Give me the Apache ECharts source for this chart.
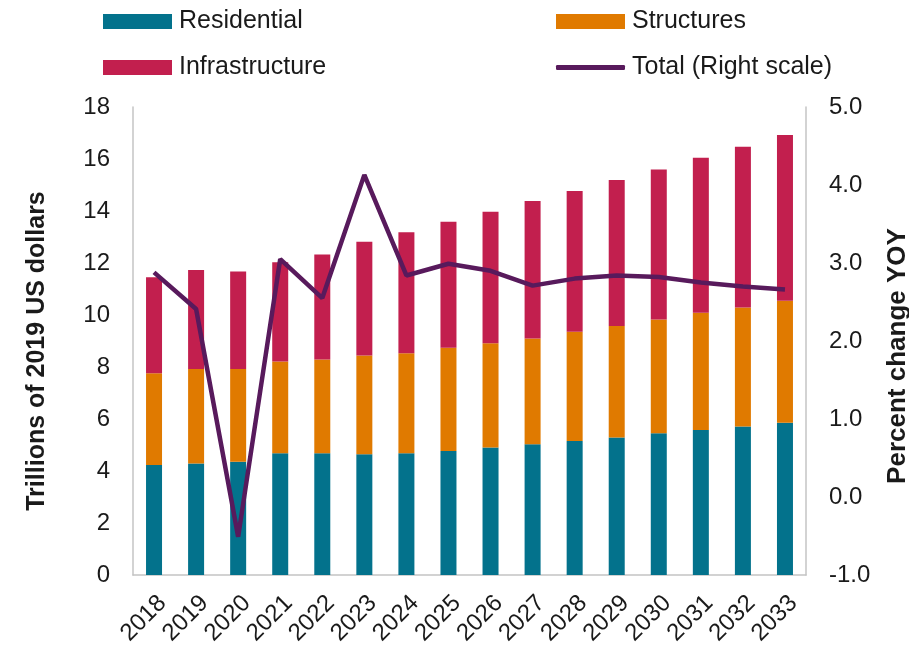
<!DOCTYPE html>
<html>
<head>
<meta charset="utf-8">
<script src="https://cdn.jsdelivr.net/npm/echarts@6/dist/echarts.min.js"></script>
<style>
  html, body { margin: 0; padding: 0; background: #fff; }
  #main { width: 909px; height: 648px; }
</style>
</head>
<body>
<div id="main"></div>
<script>
var years = ['2018', '2019', '2020', '2021', '2022', '2023', '2024', '2025',
             '2026', '2027', '2028', '2029', '2030', '2031', '2032', '2033'];
var residential = [4.23, 4.29, 4.36, 4.68, 4.68, 4.64, 4.68, 4.77, 4.90, 5.03, 5.15, 5.29, 5.45, 5.58, 5.71, 5.86];
var structures = [3.53, 3.63, 3.56, 3.53, 3.61, 3.80, 3.85, 3.97, 4.01, 4.07, 4.21, 4.29, 4.38, 4.51, 4.58, 4.69];
var infrastructure = [3.69, 3.81, 3.75, 3.82, 4.04, 4.38, 4.65, 4.85, 5.06, 5.28, 5.41, 5.61, 5.77, 5.96, 6.18, 6.37];
var totalYoy = [2.88, 2.41, -0.51, 3.05, 2.55, 4.13, 2.84, 2.99, 2.90, 2.71, 2.80, 2.84, 2.82, 2.75, 2.70, 2.66];

var font = '"Liberation Sans", Arial, sans-serif';
var txt = '#1a1a1a';

// one legend per entry so each sits where the original puts it
function legendAt(name, left, top, h) {
    return {
        left: left, top: top, padding: 0,
        itemWidth: 69, itemHeight: h,
        textStyle: { fontSize: 25, color: txt, fontFamily: font, padding: [0, 0, 0, 2] },
        data: [{ name: name, icon: h < 10 ? 'roundRect' : 'rect' }]
    };
}

var myChart = echarts.init(document.getElementById('main'));
var option = {
    animation: false,
    textStyle: { fontFamily: font },
    legend: [
        legendAt('Residential', 103, 9, 15),
        legendAt('Infrastructure', 103, 55, 15),
        legendAt('Structures', 556, 9, 15),
        legendAt('Total (Right scale)', 556, 55, 5)
    ],
    grid: { left: 133, right: 103, top: 107, bottom: 73, outerBoundsMode: 'none', containLabel: false },
    xAxis: {
        type: 'category',
        data: years,
        axisLine: { lineStyle: { color: '#c4c4c4', width: 1.5 } },
        axisTick: { show: false },
        axisLabel: { rotate: 45, fontSize: 24, color: txt, margin: 16, interval: 0, verticalAlign: 'top' }
    },
    yAxis: [{
        type: 'value',
        min: 0, max: 18, interval: 2,
        name: 'Trillions of 2019 US dollars',
        nameLocation: 'middle',
        nameGap: 83,
        nameTextStyle: { fontSize: 25, fontWeight: 'bold', color: txt, padding: [0, 20, 0, 0] },
        axisLine: { show: true, lineStyle: { color: '#c4c4c4', width: 1.5 } },
        axisTick: { show: false },
        splitLine: { show: false },
        axisLabel: { fontSize: 24, color: txt, margin: 23 }
    }, {
        type: 'value',
        min: -1, max: 5, interval: 1,
        name: 'Percent change YOY',
        nameLocation: 'middle',
        nameGap: 79,
        nameRotate: 90,
        nameTextStyle: { fontSize: 26, fontWeight: 'bold', color: txt, padding: [0, 30, 0, 0] },
        axisLine: { show: true, lineStyle: { color: '#c4c4c4', width: 1.5 } },
        axisTick: { show: false },
        splitLine: { show: false },
        axisLabel: {
            fontSize: 24, color: txt, margin: 23,
            formatter: function (v) { return v.toFixed(1); }
        }
    }],
    series: [{
        name: 'Residential',
        type: 'bar',
        stack: 'total',
        barWidth: 16,
        itemStyle: { color: '#03728C' },
        data: residential
    }, {
        name: 'Structures',
        type: 'bar',
        stack: 'total',
        barWidth: 16,
        itemStyle: { color: '#E07A00' },
        data: structures
    }, {
        name: 'Infrastructure',
        type: 'bar',
        stack: 'total',
        barWidth: 16,
        itemStyle: { color: '#C21F4E' },
        data: infrastructure
    }, {
        name: 'Total (Right scale)',
        type: 'line',
        yAxisIndex: 1,
        symbol: 'none',
        lineStyle: { color: '#581A5C', width: 4.5 },
        itemStyle: { color: '#581A5C' },
        data: totalYoy
    }]
};
myChart.setOption(option);
</script>
</body>
</html>
